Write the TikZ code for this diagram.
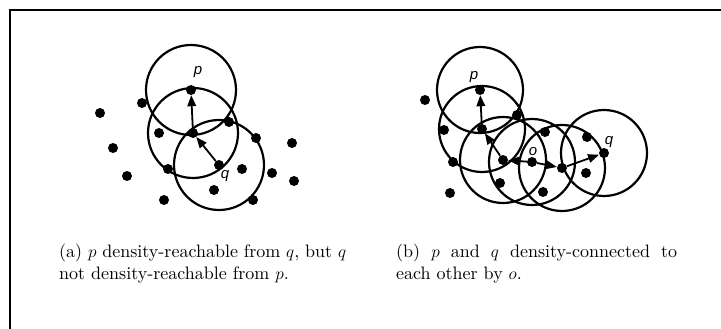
\documentclass[tikz,border=0pt]{standalone}
\usepackage{fontspec}
\usetikzlibrary{arrows.meta}
\newfontfamily\lblfont{Liberation Sans}
\newfontfamily\capfont{lmroman10-regular}[Extension=.otf]
\begin{document}
\begin{tikzpicture}[x=1pt,y=-1pt,
  dot/.style={circle,fill=black,inner sep=0pt,minimum size=10pt},
  nbhd/.style={line width=2.2pt},
  arr/.style={line width=1.8pt,-{Triangle[length=11pt,width=8.5pt]}},
  lbl/.style={font=\lblfont\itshape\fontsize{15}{15}\selectfont,inner sep=0pt,anchor=base},
  captext/.style={anchor=north west,inner sep=0pt,align=justify,font=\capfont\fontsize{18}{22}\selectfont}]
\useasboundingbox (0,0) rectangle (721,329);
\draw[line width=2pt] (10,329) -- (10,10) -- (721,10);

% ---------- left panel ----------
\node[dot] (lp) at (191,90) {};
\node[dot] (lo) at (193,133) {};
\node[dot] (lq) at (219,165) {};
\foreach \c in {lp,lo,lq} \draw[nbhd] (\c) circle[radius=45pt];
\foreach \x/\y [count=\i] in {142/103,100/113,159/133,229/122,256/138,113/148,292/143,127/176,168/169,242/169,272/173,294/181,214/190,164/200,253/200}
  \node[dot] (la\i) at (\x,\y) {};
\draw[arr] (lo) -- (lp);
\draw[arr] (lq) -- (lo);
\node[lbl] (lpl) at (198,75) {p};
\node[lbl] (lql) at (225,178) {q};
\node[captext,text width=287pt] (capa) at (59,244)
  {(a) $p$ density-reachable from $q$, but $q$\linebreak not density-reachable from $p$.};

% ---------- right panel ----------
\node[dot] (rp) at (480,90) {};
\node[dot] (r2) at (482,129) {};
\node[dot] (r3) at (503,160) {};
\node[dot] (ro) at (532,162) {};
\node[dot] (r5) at (562,168) {};
\node[dot] (rq) at (604,153) {};
\foreach \c in {rp,r2,r3,ro,r5,rq} \draw[nbhd] (\c) circle[radius=43pt];
\foreach \x/\y [count=\i] in {425/100,444/130,453/162,450/193,517/115,500/183,543/192,545/132,587/137,586/173}
  \node[dot] (ra\i) at (\x,\y) {};
\draw[arr] (r2) -- (rp);
\draw[arr] (r3) -- (r2);
\draw[arr] (ro) -- (r3);
\draw[arr] (ro) -- (r5);
\draw[arr] (r5) -- (rq);
\node[lbl] (rpl) at (474,80) {p};
\node[lbl] (rol) at (533,155) {o};
\node[lbl] (rql) at (609,145) {q};
\node[captext,text width=281pt] (capb) at (396,244)
  {(b) $p$ and $q$ density-connected to\linebreak each other by $o$.};
\end{tikzpicture}
\end{document}
